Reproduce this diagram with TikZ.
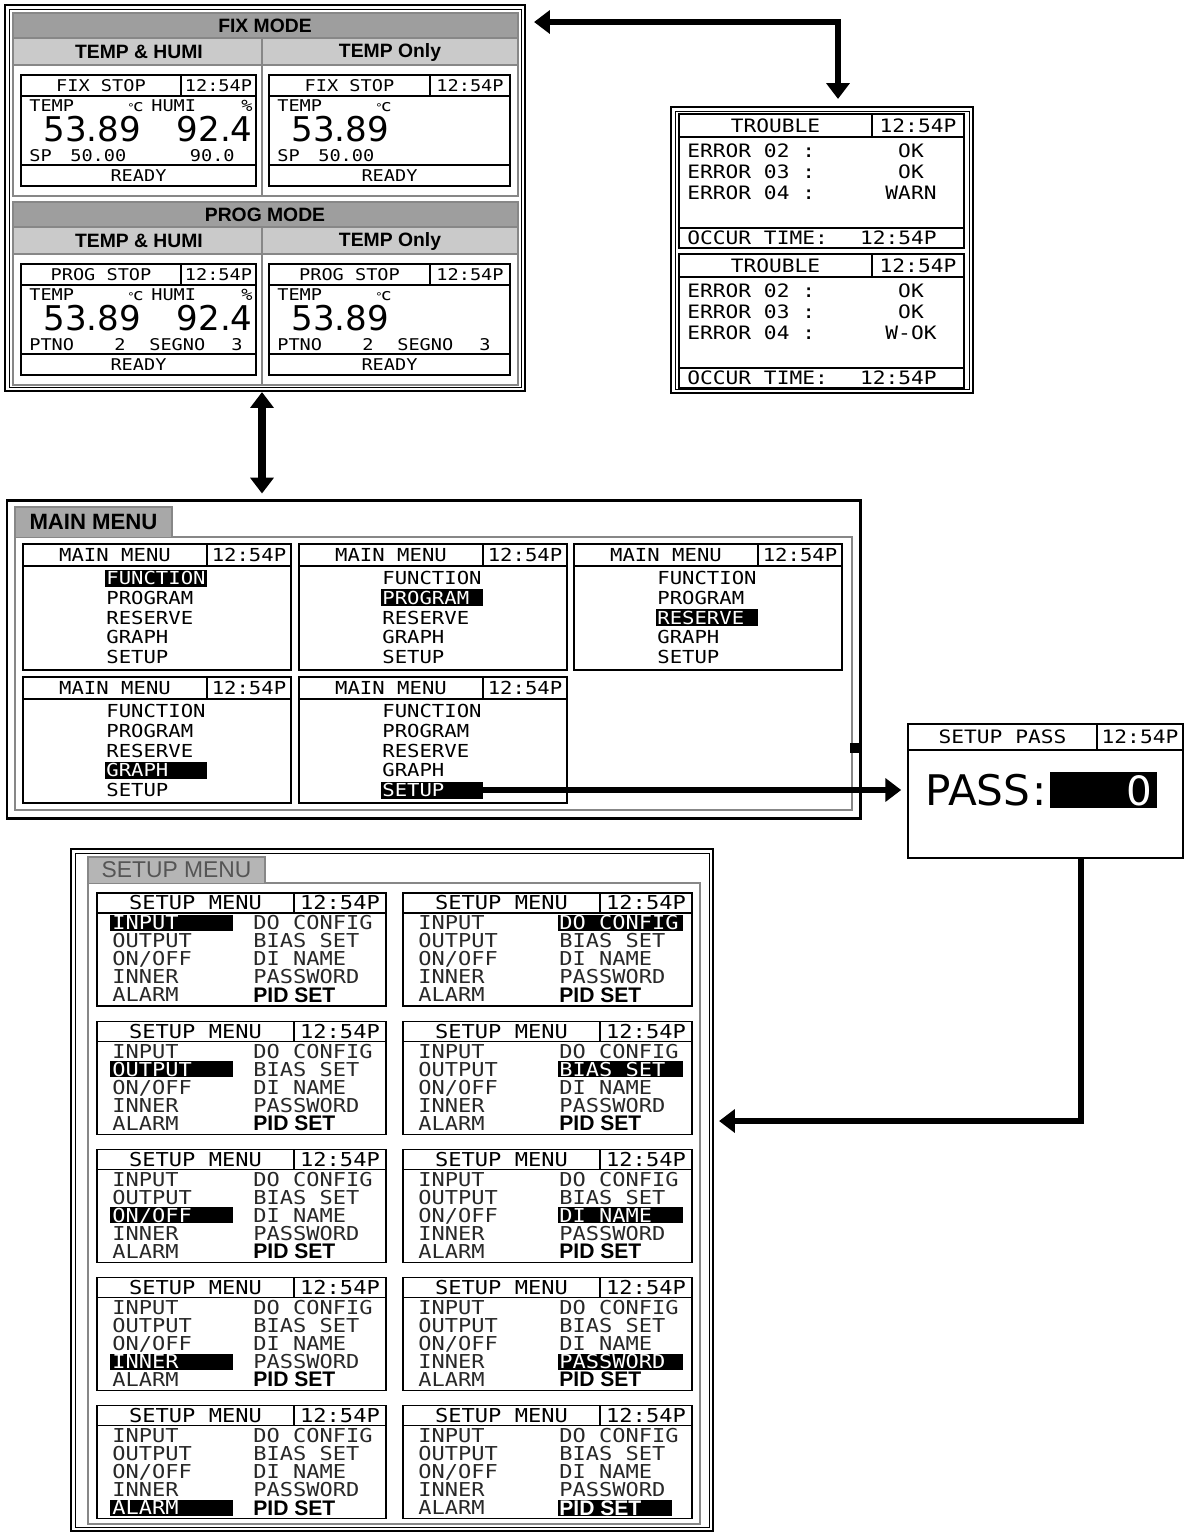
\documentclass[tikz,border=0pt]{standalone}
\usepackage{fontspec}
\setmainfont{Liberation Sans}
\newfontfamily\lcd[FakeStretch=1.15]{DejaVu Sans Mono}
\newfontfamily\lcdbig{DejaVu Sans}
\usetikzlibrary{arrows.meta,positioning,fit}

\definecolor{bardark}{RGB}{158,158,158}
\definecolor{barlight}{RGB}{202,202,202}
\definecolor{tabgray}{RGB}{168,168,168}
\definecolor{rimgray}{RGB}{135,135,135}
\definecolor{inkgray}{RGB}{40,40,40}
\definecolor{tabink}{RGB}{85,85,85}

\begin{document}
\begin{tikzpicture}[x=0.02cm, y=-0.02cm]
	\tikzstyle{Outer}	= [draw, line width=1.2pt]
	\tikzstyle{Inner}	= [draw, line width=0.5pt]
	\tikzstyle{Rim}		= [draw=rimgray, line width=0.7pt]
	\tikzstyle{Cell}	= [draw, line width=0.6pt]
	\tikzstyle{Head}	= [font=\bfseries\fontsize{11}{11}\selectfont, inner sep=0pt]
	\tikzstyle{SmallLcd}	= [font=\lcd\fontsize{9.2}{9.2}\selectfont, inner sep=0pt, text height=6.7pt, text depth=0pt]
	\tikzstyle{MidLcd}	= [font=\lcd\fontsize{10.5}{10.5}\selectfont, inner sep=0pt, text height=7.6pt, text depth=0pt]
	\tikzstyle{MenuLcd}	= [font=\lcd\fontsize{10.2}{10.2}\selectfont, inner sep=0pt, text height=7.4pt, text depth=0pt]
	\tikzstyle{SetLcd}	= [font=\lcd\fontsize{10.9}{10.9}\selectfont, inner sep=0pt, text height=7.9pt, text depth=0pt]
	\tikzstyle{Digits}	= [font=\lcdbig\fontsize{19.4}{19.4}\selectfont, inner sep=0pt]
	\tikzstyle{Link}	= [line width=3.6pt, -{Triangle[length=9pt, width=13pt]}]
	\tikzstyle{Link2}	= [line width=3.6pt, {Triangle[length=9pt, width=13pt]}-{Triangle[length=9pt, width=13pt]}]

	\useasboundingbox (0,0) rectangle (1185,1532);

	% fix / prog modes
	\coordinate (m1) at (5,5);
	\coordinate (m2) at (525,391);
	\node [fit=(m1)(m2), inner sep=0pt, Outer] (modes) {};
	\draw [Inner] (9,9) rectangle (521,387);
	\foreach \yy/\mode/\st in {13/FIX MODE/FIX STOP, 202/PROG MODE/PROG STOP} {
		\fill [bardark] (13,\yy) rectangle (518,\yy+25);
		\fill [barlight] (13,\yy+25) rectangle (518,\yy+52);
		\draw [Rim] (13,\yy) rectangle (518,\yy+183);
		\draw [Rim] (13,\yy+25) -- (518,\yy+25);
		\draw [Rim] (13,\yy+52) -- (518,\yy+52);
		\draw [Rim] (262,\yy+25) -- (262,\yy+183);
		\node [Head] (hd\yy) at (265,\yy+12.5) {\mode};
		\node [Head] (th\yy) at (139,\yy+39) {TEMP \& HUMI};
		\node [Head] (to\yy) at (390,\yy+39) {TEMP Only};
		\foreach \xa/\xd/\xb in {21/181/256, 269/430/510} {
			\draw [Cell] (\xa,\yy+62) rectangle (\xb,\yy+173);
			\draw [Cell] (\xa,\yy+83) -- (\xb,\yy+83);
			\draw [Cell] (\xa,\yy+152) -- (\xb,\yy+152);
			\draw [Cell] (\xd,\yy+62) -- (\xd,\yy+83);
			\node [SmallLcd] (st\xa\yy) at ({(\xa+\xd)/2},\yy+72.5) {\st};
			\node [SmallLcd] (tm\xa\yy) at ({(\xd+\xb)/2},\yy+72.5) {12:54P};
			\node [SmallLcd] (rd\xa\yy) at ({(\xa+\xb)/2},\yy+162.5) {READY};
			\node [SmallLcd, anchor=west] (tp\xa\yy) at (\xa+8,\yy+93) {TEMP};
			\node [SmallLcd, anchor=west] (dg\xa\yy) at (\xa+106,\yy+93) {{\fontsize{6}{6}\selectfont°}\kern-1.2pt c};
			\node [Digits, anchor=base west] (tv\xa\yy) at (\xa+22,\yy+128) {53.89};
		}
		% humidity only on the left screen
		\node [SmallLcd, anchor=west] (hm\yy) at (151,\yy+93) {HUMI};
		\node [SmallLcd, anchor=east] (pc\yy) at (253,\yy+93) {\%};
		\node [Digits, anchor=base east] (hv\yy) at (253,\yy+128) {92.4};
	}
	\foreach \xa in {21, 269} {
		\node [SmallLcd, anchor=west] (sp\xa) at (\xa+8,156) {SP};
		\node [SmallLcd, anchor=west] (sv\xa) at (\xa+49,156) {50.00};
		\node [SmallLcd, anchor=west] (pt\xa) at (\xa+8,345) {PTNO};
		\node [SmallLcd, anchor=west] (pn\xa) at (\xa+93,345) {2};
		\node [SmallLcd, anchor=west] (sg\xa) at (\xa+128,345) {SEGNO};
		\node [SmallLcd, anchor=west] (sn\xa) at (\xa+210,345) {3};
	}
	\node [SmallLcd, anchor=east] (hsp) at (235,156) {90.0};

	% trouble screens
	\coordinate (t1) at (671,107);
	\coordinate (t2) at (973,393);
	\node [fit=(t1)(t2), inner sep=0pt, Outer] (trouble) {};
	\draw [Inner] (675,111) rectangle (969,389);
	\foreach \yy/\st in {114/WARN, 254/W-OK} {
		\draw [Cell] (679,\yy) rectangle (964,\yy+134);
		\draw [Cell] (679,\yy+23) -- (964,\yy+23);
		\draw [Cell] (872,\yy) -- (872,\yy+23);
		\draw [Cell] (679,\yy+114) -- (964,\yy+114);
		\node [MidLcd] (tr\yy) at (775.5,\yy+11.5) {TROUBLE};
		\node [MidLcd] (tt\yy) at (918,\yy+11.5) {12:54P};
		\foreach \n/\v [count=\k from 0] in {02/OK, 03/OK, 04/\st} {
			\node [MidLcd, anchor=west] (er\yy\k) at (687,\yy+37+21*\k) {ERROR \n\ :};
			\node [MidLcd] (ev\yy\k) at (911,\yy+37+21*\k) {\v};
		}
		\node [MidLcd, anchor=west] (oc\yy) at (687,\yy+124) {OCCUR TIME:};
		\node [MidLcd, anchor=east] (ot\yy) at (937,\yy+124) {12:54P};
	}

	% main menu
	\coordinate (n1) at (7,500);
	\coordinate (n2) at (860,818);
	\node [fit=(n1)(n2), inner sep=0pt, draw, line width=1.7pt] (mainmenu) {};
	\draw [Rim] (15,537) rectangle (852,810);
	\draw [Rim, fill=tabgray] (15,537) -- (15,507) -- (172,507) -- (172,537);
	\node [font=\bfseries\fontsize{12.6}{12.6}\selectfont, inner sep=0pt] (mmtab) at (93.5,522) {MAIN MENU};
	\foreach \s/\xa/\yy in {0/23/544, 1/299/544, 2/574/544, 3/23/677, 4/299/677} {
		\draw [Cell] (\xa,\yy) rectangle (\xa+268,\yy+126);
		\draw [Cell] (\xa,\yy+22) -- (\xa+268,\yy+22);
		\draw [Cell] (\xa+184,\yy) -- (\xa+184,\yy+22);
		\node [MenuLcd] (mt\s) at (\xa+92,\yy+11) {MAIN MENU};
		\node [MenuLcd] (mc\s) at (\xa+226,\yy+11) {12:54P};
		\fill (\xa+82,\yy+34+19.8*\s-8.5) rectangle (\xa+184,\yy+34+19.8*\s+8.5);
		\foreach \lbl [count=\k from 0] in {FUNCTION,PROGRAM,RESERVE,GRAPH,SETUP} {
			\ifnum\k=\s \def\ink{white}\else\def\ink{black}\fi
			\node [MenuLcd, anchor=west, text=\ink] (mi\s\k) at (\xa+83,\yy+34+19.8*\k) {\lbl};
		}
	}
	\coordinate (setupsel) at (483,790);
	\fill (850,743) rectangle (862,753);
	\draw [line width=1pt] (567,739) -- (567,748);

	% setup pass
	\coordinate (p1) at (908,724);
	\coordinate (p2) at (1183,858);
	\node [fit=(p1)(p2), inner sep=0pt, draw, line width=0.9pt] (pass) {};
	\draw [Cell] (908,750) -- (1183,750);
	\draw [Cell] (1097,724) -- (1097,750);
	\node [MidLcd] (pst) at (1002.5,737) {SETUP PASS};
	\node [MidLcd] (psc) at (1140,737) {12:54P};
	\node [font=\lcdbig\fontsize{24}{24}\selectfont, inner sep=0pt, anchor=base west] (pw) at (925,805) {PASS\kern1pt:};
	\fill (1050,772) rectangle (1157,808);
	\node [font=\lcdbig\fontsize{23}{23}\selectfont, inner sep=0pt, anchor=base east, text=white] (pz) at (1153,805) {0};

	% setup menu
	\coordinate (s1) at (71,849);
	\coordinate (s2) at (713,1531);
	\node [fit=(s1)(s2), inner sep=0pt, Outer] (setupmenu) {};
	\draw [Inner] (75,853) rectangle (709,1527);
	\draw [Rim] (88,883) rectangle (700,1524);
	\draw [Rim, fill=tabgray!85] (88,883) -- (88,857) -- (265,857) -- (265,883);
	\node [font=\fontsize{13}{13}\selectfont, text=tabink, inner sep=0pt] (smtab) at (176.5,870) {SETUP MENU};
	\foreach \row in {0,...,4} {
		\foreach \col/\xa in {0/97, 1/403} {
			\pgfmathsetmacro\yy{893+128.2*\row}
			\draw [Cell] (\xa,\yy) rectangle (\xa+289,\yy+113);
			\draw [Cell] (\xa,\yy+20) -- (\xa+289,\yy+20);
			\draw [Cell] (\xa+197,\yy) -- (\xa+197,\yy+20);
			\node [SetLcd] (ht\row\col) at (\xa+98.5,\yy+10) {SETUP MENU};
			\node [SetLcd] (hc\row\col) at (\xa+243,\yy+10) {12:54P};
			\ifnum\col=0
				\fill (\xa+13,\yy+30+18*\row-8) rectangle (\xa+136,\yy+30+18*\row+8);
			\else
				\ifnum\row=4 \def\xe{269}\else\def\xe{280}\fi
				\fill (\xa+155,\yy+30+18*\row-8) rectangle (\xa+\xe,\yy+30+18*\row+8);
			\fi
			\foreach \lbl [count=\k from 0] in {INPUT,OUTPUT,ON\slash OFF,INNER,ALARM} {
				\def\ink{inkgray}
				\ifnum\col=0 \ifnum\k=\row \def\ink{white}\fi\fi
				\node [SetLcd, anchor=west, text=\ink] (sl\row\col\k) at (\xa+15,\yy+30+18*\k) {\lbl};
			}
			\foreach \lbl [count=\k from 0] in {DO CONFIG,BIAS SET,DI NAME,PASSWORD} {
				\def\ink{inkgray}
				\ifnum\col=1 \ifnum\k=\row \def\ink{white}\fi\fi
				\node [SetLcd, anchor=west, text=\ink] (sr\row\col\k) at (\xa+156,\yy+30+18*\k) {\lbl};
			}
			\def\ink{black}
			\ifnum\col=1 \ifnum\row=4 \def\ink{white}\fi\fi
			\node [font=\bfseries\fontsize{12}{12}\selectfont, inner sep=0pt, anchor=west, text=\ink] (pid\row\col) at (\xa+156,\yy+102) {PID SET};
		}
	}

	% links between the screens
	\coordinate (bend) at (838,22);
	\coordinate (vx) at (262,0);
	\coordinate (drop) at (1081,1121);
	\draw [Link2, shorten <=0.16cm, shorten >=0.14cm] (modes.east |- bend) -- (bend) -- (trouble.north -| bend);
	\draw [Link2, line width=4pt, shorten >=0.1cm] (modes.south -| vx) -- (mainmenu.north -| vx);
	\draw [Link, shorten >=0.12cm] (setupsel) -- (setupsel -| pass.west);
	\draw [Link, shorten >=0.1cm] (pass.south -| drop) |- (setupmenu.east |- drop);
\end{tikzpicture}
\end{document}
